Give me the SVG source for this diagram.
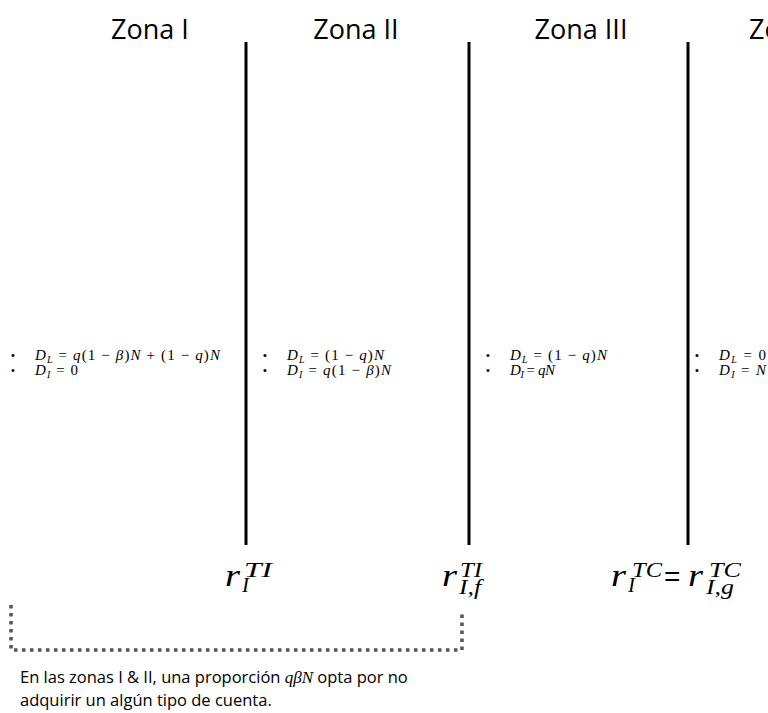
<svg xmlns="http://www.w3.org/2000/svg" width="768" height="713" viewBox="0 0 768 713">
<style>
.title{font-family:"Open Sans","Noto Sans",sans-serif;font-size:27px;fill:#000}
.m{font-family:"Liberation Serif",serif;font-size:15px;fill:#000}
.i{font-style:italic}
.s{font-size:10px;font-style:italic}
.bul{font-family:"Liberation Sans",sans-serif;font-size:11px;fill:#000}
.r{font-family:"Liberation Serif",serif;font-size:32px;font-style:italic;fill:#000}
.sup{font-family:"Liberation Serif",serif;font-size:21px;font-style:italic;fill:#000}
.eq{font-family:"Liberation Sans",sans-serif;font-size:28px;fill:#000}
.note{font-family:"Open Sans","Noto Sans",sans-serif;font-size:16.5px;fill:#000}
.div{stroke:#000;stroke-width:3}
.dot{fill:none;stroke:#555;stroke-width:3.5;stroke-dasharray:3.5 4.5}
</style>
<rect width="768" height="713" fill="#fff"/>
<g id="titles">
<text class="title" x="150" y="39" text-anchor="middle">Zona I</text>
<text class="title" x="356" y="39" text-anchor="middle">Zona II</text>
<text class="title" x="581" y="39" text-anchor="middle">Zona III</text>
<text class="title" x="749" y="39">Zona IV</text>
</g>
<g id="dividers">
<line class="div" x1="246" y1="42" x2="246" y2="545"/>
<line class="div" x1="469" y1="42" x2="469" y2="545"/>
<line class="div" x1="688" y1="42" x2="688" y2="545"/>
</g>
<g id="zone1">
<text class="bul" x="11" y="359">•</text>
<text class="bul" x="11" y="374">•</text>
<text class="m" x="35" y="360" textLength="185" lengthAdjust="spacing"><tspan class="i">D</tspan><tspan class="s" dy="3">L</tspan><tspan dy="-3"> = </tspan><tspan class="i">q</tspan>(1 − <tspan class="i">β</tspan>)<tspan class="i">N</tspan> + (1 − <tspan class="i">q</tspan>)<tspan class="i">N</tspan></text>
<text class="m" x="35" y="375" textLength="43" lengthAdjust="spacing"><tspan class="i">D</tspan><tspan class="s" dy="3">I</tspan><tspan dy="-3"> = 0</tspan></text>
</g>
<g id="zone2">
<text class="bul" x="263" y="359">•</text>
<text class="bul" x="263" y="374">•</text>
<text class="m" x="287" y="360" textLength="97" lengthAdjust="spacing"><tspan class="i">D</tspan><tspan class="s" dy="3">L</tspan><tspan dy="-3"> = (1 − </tspan><tspan class="i">q</tspan>)<tspan class="i">N</tspan></text>
<text class="m" x="287" y="375" textLength="104" lengthAdjust="spacing"><tspan class="i">D</tspan><tspan class="s" dy="3">I</tspan><tspan dy="-3"> = </tspan><tspan class="i">q</tspan>(1 − <tspan class="i">β</tspan>)<tspan class="i">N</tspan></text>
</g>
<g id="zone3">
<text class="bul" x="486" y="359">•</text>
<text class="bul" x="486" y="374">•</text>
<text class="m" x="510" y="360" textLength="97" lengthAdjust="spacing"><tspan class="i">D</tspan><tspan class="s" dy="3">L</tspan><tspan dy="-3"> = (1 − </tspan><tspan class="i">q</tspan>)<tspan class="i">N</tspan></text>
<text class="m" x="510" y="375" textLength="45" lengthAdjust="spacing"><tspan class="i">D</tspan><tspan class="s" dy="3">I</tspan><tspan dy="-3"> = </tspan><tspan class="i">qN</tspan></text>
</g>
<g id="zone4">
<text class="bul" x="695" y="359">•</text>
<text class="bul" x="695" y="374">•</text>
<text class="m" x="719" y="360" textLength="47" lengthAdjust="spacing"><tspan class="i">D</tspan><tspan class="s" dy="3">L</tspan><tspan dy="-3"> = 0</tspan></text>
<text class="m" x="719" y="375" textLength="47" lengthAdjust="spacing"><tspan class="i">D</tspan><tspan class="s" dy="3">I</tspan><tspan dy="-3"> = </tspan><tspan class="i">N</tspan></text>
</g>
<g id="r1">
<text class="r" x="225" y="586" textLength="15" lengthAdjust="spacingAndGlyphs">r</text>
<text class="sup" x="244" y="577" textLength="28" lengthAdjust="spacingAndGlyphs">TI</text>
<text class="sup" x="242" y="592">I</text>
</g>
<g id="r2">
<text class="r" x="442" y="586" textLength="15" lengthAdjust="spacingAndGlyphs">r</text>
<text class="sup" x="460" y="577" textLength="22" lengthAdjust="spacingAndGlyphs">TI</text>
<text class="sup" x="459" y="594" textLength="22" lengthAdjust="spacingAndGlyphs">I,f</text>
</g>
<g id="r3">
<text class="r" x="611" y="586" textLength="15" lengthAdjust="spacingAndGlyphs">r</text>
<text class="sup" x="632" y="577" textLength="30" lengthAdjust="spacingAndGlyphs">TC</text>
<text class="sup" x="628" y="592">I</text>
<text class="eq" x="664" y="586">=</text>
<text class="r" x="688" y="586" textLength="15" lengthAdjust="spacingAndGlyphs">r</text>
<text class="sup" x="709" y="577" textLength="32" lengthAdjust="spacingAndGlyphs">TC</text>
<text class="sup" x="706" y="594" textLength="28" lengthAdjust="spacingAndGlyphs">I,g</text>
</g>
<g id="connectors">
<path class="dot" d="M11,605 V650 H462 V612"/>
</g>
<g id="note">
<text class="note" x="20" y="683">En las zonas I &amp; II, una proporción <tspan font-family="Liberation Serif, serif" font-style="italic" font-size="17">qβN</tspan> opta por no</text>
<text class="note" x="20" y="706">adquirir un algún tipo de cuenta.</text>
</g>
</svg>
